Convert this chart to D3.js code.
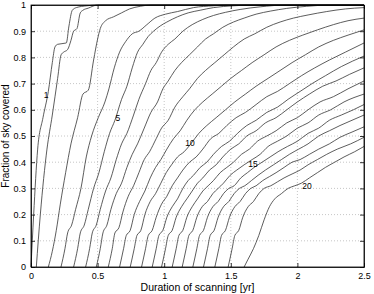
<!DOCTYPE html>
<html>
<head>
<meta charset="utf-8">
<script src="https://d3js.org/d3.v7.min.js"></script>
<style>
  body { margin: 0; background: #fff; }
  text { font-family: "Liberation Sans", Arial, sans-serif; fill: #000; }
  .grid line { stroke: #b8b8b8; stroke-dasharray: 1,2; stroke-width: 0.8; }
  .curve { fill: none; stroke: #333; stroke-width: 0.8; }
</style>
</head>
<body>
<div class="chart"></div>
<script>
// fraction of sky covered, one curve per case
var c1 = [[0,0],[0.02,0.2],[0.05,0.45],[0.09,0.57],[0.13,0.67],[0.16,0.78],[0.18,0.84],[0.2,0.85],[0.265,0.855],[0.285,0.92],[0.31,0.98],[0.34,0.99],[0.42,0.997],[0.5,1],[2.5,1]];
var c2 = [[0.04,0],[0.07,0.2],[0.12,0.45],[0.16,0.58],[0.2,0.72],[0.226,0.81],[0.245,0.82],[0.275,0.83],[0.3,0.865],[0.32,0.9],[0.345,0.91],[0.37,0.97],[0.39,0.98],[0.43,0.988],[0.5,1],[2.5,1]];
var c3 = [[0.13,0],[0.16,0.06],[0.19,0.14],[0.22,0.24],[0.26,0.36],[0.3,0.47],[0.35,0.57],[0.39,0.66],[0.43,0.675],[0.47,0.79],[0.5,0.87],[0.52,0.91],[0.56,0.94],[0.62,0.955],[0.68,0.97],[0.74,0.985],[0.82,0.995],[0.9,1],[2.5,1]];
var c4 = [[0.225,0],[0.255,0.07],[0.275,0.13],[0.305,0.16],[0.335,0.22],[0.375,0.3],[0.415,0.42],[0.455,0.5],[0.505,0.57],[0.555,0.63],[0.585,0.68],[0.625,0.76],[0.665,0.82],[0.71,0.86],[0.76,0.89],[0.81,0.9],[0.87,0.925],[0.93,0.95],[1.01,0.965],[1.1,0.975],[1.22,0.99],[1.37,0.997],[1.47,1],[2.5,1]];
var c5 = [[0.32,0],[0.35,0.07],[0.37,0.13],[0.4,0.16],[0.43,0.22],[0.47,0.3],[0.51,0.36],[0.55,0.44],[0.59,0.51],[0.63,0.56],[0.68,0.64],[0.72,0.69],[0.76,0.76],[0.8,0.82],[0.84,0.85],[0.88,0.88],[0.92,0.9],[0.97,0.92],[1.02,0.935],[1.1,0.955],[1.18,0.97],[1.27,0.98],[1.37,0.99],[1.52,0.997],[1.68,1],[2.5,1]];
var c6 = [[0.41,0],[0.44,0.07],[0.46,0.13],[0.49,0.16],[0.52,0.22],[0.56,0.29],[0.6,0.34],[0.64,0.41],[0.68,0.47],[0.72,0.51],[0.77,0.58],[0.81,0.64],[0.86,0.7],[0.9,0.75],[0.94,0.78],[0.98,0.82],[1.03,0.85],[1.08,0.87],[1.14,0.9],[1.21,0.925],[1.29,0.945],[1.37,0.96],[1.46,0.972],[1.57,0.983],[1.72,0.993],[1.92,1],[2.5,1]];
var c7 = [[0.49,0],[0.52,0.07],[0.54,0.13],[0.57,0.16],[0.6,0.22],[0.64,0.28],[0.68,0.32],[0.72,0.38],[0.76,0.43],[0.8,0.47],[0.85,0.53],[0.9,0.59],[0.95,0.63],[0.99,0.68],[1.03,0.71],[1.08,0.75],[1.13,0.78],[1.19,0.81],[1.25,0.84],[1.31,0.87],[1.37,0.89],[1.44,0.915],[1.52,0.935],[1.6,0.95],[1.69,0.965],[1.8,0.977],[1.92,0.987],[2.07,0.995],[2.25,1],[2.5,1]];
var c8 = [[0.58,0],[0.61,0.07],[0.63,0.13],[0.66,0.15],[0.69,0.21],[0.73,0.27],[0.77,0.31],[0.81,0.36],[0.85,0.41],[0.89,0.44],[0.94,0.49],[0.98,0.53],[1.03,0.56],[1.08,0.61],[1.14,0.65],[1.19,0.68],[1.25,0.72],[1.31,0.75],[1.38,0.78],[1.45,0.81],[1.52,0.84],[1.6,0.87],[1.68,0.89],[1.77,0.915],[1.87,0.935],[1.97,0.95],[2.08,0.962],[2.22,0.975],[2.36,0.985],[2.5,0.99]];
var c9 = [[0.665,0],[0.695,0.07],[0.715,0.12],[0.745,0.14],[0.775,0.2],[0.815,0.25],[0.855,0.29],[0.895,0.34],[0.935,0.38],[0.975,0.41],[1.02,0.45],[1.07,0.49],[1.12,0.52],[1.17,0.56],[1.23,0.6],[1.29,0.63],[1.36,0.66],[1.43,0.69],[1.5,0.72],[1.58,0.75],[1.66,0.78],[1.75,0.81],[1.84,0.84],[1.94,0.865],[2.04,0.885],[2.15,0.905],[2.27,0.925],[2.38,0.94],[2.5,0.95]];
var c10 = [[0.745,0],[0.775,0.07],[0.795,0.12],[0.825,0.14],[0.855,0.2],[0.895,0.25],[0.935,0.28],[0.975,0.32],[1.015,0.36],[1.055,0.39],[1.1,0.42],[1.15,0.44],[1.2,0.47],[1.26,0.51],[1.32,0.54],[1.39,0.57],[1.46,0.6],[1.53,0.63],[1.61,0.66],[1.69,0.69],[1.78,0.72],[1.87,0.75],[1.96,0.78],[2.06,0.81],[2.16,0.84],[2.27,0.865],[2.38,0.885],[2.5,0.905]];
var c11 = [[0.83,0],[0.86,0.07],[0.88,0.12],[0.91,0.14],[0.94,0.19],[0.98,0.24],[1.02,0.27],[1.06,0.31],[1.1,0.34],[1.14,0.37],[1.19,0.4],[1.24,0.42],[1.29,0.45],[1.35,0.49],[1.41,0.51],[1.47,0.54],[1.54,0.57],[1.61,0.59],[1.69,0.62],[1.77,0.65],[1.85,0.67],[1.94,0.7],[2.03,0.73],[2.13,0.76],[2.24,0.79],[2.36,0.82],[2.5,0.855]];
var c12 = [[0.91,0],[0.94,0.07],[0.96,0.12],[0.99,0.14],[1.02,0.19],[1.06,0.23],[1.1,0.26],[1.14,0.3],[1.18,0.33],[1.22,0.35],[1.27,0.38],[1.32,0.4],[1.37,0.43],[1.43,0.46],[1.49,0.48],[1.55,0.51],[1.62,0.54],[1.69,0.56],[1.77,0.59],[1.85,0.61],[1.93,0.64],[2.02,0.67],[2.11,0.7],[2.21,0.73],[2.33,0.765],[2.5,0.805]];
var c13 = [[0.98,0],[1.01,0.07],[1.03,0.12],[1.06,0.14],[1.09,0.19],[1.13,0.23],[1.17,0.26],[1.21,0.29],[1.25,0.32],[1.29,0.34],[1.34,0.37],[1.39,0.39],[1.44,0.42],[1.5,0.45],[1.56,0.47],[1.62,0.5],[1.69,0.52],[1.76,0.55],[1.84,0.57],[1.92,0.6],[2.0,0.63],[2.09,0.66],[2.19,0.69],[2.29,0.71],[2.39,0.735],[2.5,0.76]];
var c14 = [[1.06,0],[1.09,0.07],[1.11,0.12],[1.14,0.14],[1.17,0.19],[1.21,0.23],[1.25,0.26],[1.29,0.29],[1.33,0.31],[1.37,0.33],[1.42,0.36],[1.47,0.38],[1.52,0.4],[1.58,0.43],[1.64,0.45],[1.7,0.48],[1.77,0.5],[1.84,0.52],[1.92,0.55],[2.0,0.57],[2.08,0.6],[2.17,0.63],[2.27,0.65],[2.38,0.68],[2.5,0.71]];
var c15 = [[1.135,0],[1.165,0.07],[1.185,0.12],[1.215,0.14],[1.245,0.19],[1.285,0.23],[1.325,0.25],[1.365,0.28],[1.405,0.3],[1.445,0.32],[1.495,0.35],[1.545,0.37],[1.6,0.39],[1.66,0.41],[1.72,0.43],[1.78,0.46],[1.85,0.48],[1.92,0.5],[2.0,0.53],[2.08,0.55],[2.16,0.58],[2.25,0.6],[2.35,0.63],[2.5,0.66]];
var c16 = [[1.215,0],[1.245,0.07],[1.265,0.12],[1.295,0.14],[1.325,0.19],[1.365,0.23],[1.405,0.25],[1.445,0.28],[1.485,0.3],[1.525,0.31],[1.575,0.34],[1.625,0.36],[1.675,0.38],[1.735,0.4],[1.795,0.42],[1.855,0.44],[1.925,0.46],[2.0,0.48],[2.08,0.51],[2.16,0.53],[2.24,0.56],[2.33,0.58],[2.42,0.6],[2.5,0.62]];
var c17 = [[1.295,0],[1.325,0.07],[1.345,0.12],[1.375,0.14],[1.405,0.19],[1.445,0.23],[1.485,0.25],[1.525,0.28],[1.565,0.3],[1.605,0.31],[1.655,0.33],[1.705,0.35],[1.76,0.37],[1.82,0.39],[1.88,0.41],[1.94,0.43],[2.01,0.45],[2.08,0.47],[2.16,0.5],[2.24,0.52],[2.32,0.54],[2.41,0.56],[2.5,0.58]];
var c18 = [[1.38,0],[1.41,0.07],[1.43,0.12],[1.46,0.14],[1.49,0.19],[1.53,0.23],[1.57,0.25],[1.61,0.28],[1.65,0.3],[1.69,0.31],[1.74,0.33],[1.79,0.345],[1.84,0.36],[1.9,0.38],[1.96,0.4],[2.02,0.41],[2.09,0.43],[2.16,0.45],[2.24,0.47],[2.32,0.495],[2.41,0.515],[2.5,0.535]];
var c19 = [[1.48,0],[1.51,0.07],[1.53,0.12],[1.56,0.14],[1.59,0.19],[1.63,0.23],[1.67,0.25],[1.71,0.28],[1.75,0.3],[1.8,0.31],[1.85,0.325],[1.9,0.34],[1.96,0.355],[2.02,0.37],[2.08,0.39],[2.15,0.41],[2.22,0.43],[2.3,0.45],[2.4,0.47],[2.5,0.495]];
var c20 = [[1.6,0],[1.63,0.03],[1.67,0.07],[1.71,0.12],[1.75,0.18],[1.79,0.23],[1.83,0.26],[1.88,0.28],[1.93,0.3],[1.98,0.31],[2.03,0.32],[2.09,0.34],[2.15,0.36],[2.21,0.38],[2.28,0.4],[2.35,0.42],[2.43,0.44],[2.5,0.46]];

var curves = [c1,c2,c3,c4,c5,c6,c7,c8,c9,c10,c11,c12,c13,c14,c15,c16,c17,c18,c19,c20];

// curve labels and where they sit
var labelText = ["1","5","10","15","20"];
var labelPos = [[0.113,0.655],[0.653,0.567],[1.194,0.472],[1.667,0.395],[2.072,0.308]];

var xTicks = [0,0.5,1,1.5,2,2.5];
var yTicks = [0,0.1,0.2,0.3,0.4,0.5,0.6,0.7,0.8,0.9,1];

var w = 374, h = 294;
var margin = {left:31, right:10, top:5, bottom:27};
var width = w - margin.left - margin.right;
var height = h - margin.top - margin.bottom;

var x = d3.scaleLinear().domain([0,2.5]).range([0,width]);
var y = d3.scaleLinear().domain([0,1]).range([height,0]);

var svg = d3.select("div.chart").append("svg")
            .attr("width", w)
            .attr("height", h);

var chartGroup = svg.append("g")
                    .attr("transform","translate(" + margin.left + "," + margin.top + ")");

// dotted grid
var grid = chartGroup.append("g").attr("class","grid");
grid.selectAll("line.gx")
    .data(xTicks.slice(1,-1))
    .enter().append("line")
      .attr("x1",function(d){return x(d);}).attr("x2",function(d){return x(d);})
      .attr("y1",0).attr("y2",height);
grid.selectAll("line.gy")
    .data(yTicks.slice(1,-1))
    .enter().append("line")
      .attr("y1",function(d){return y(d);}).attr("y2",function(d){return y(d);})
      .attr("x1",0).attr("x2",width);

var line = d3.line()
  .x(function(d){ return x(d[0]); })
  .y(function(d){ return y(d[1]); })
  .curve(d3.curveMonotoneX);

chartGroup.selectAll("path.curve")
  .data(curves)
  .enter().append("path")
    .attr("class","curve")
    .attr("d", line);

chartGroup.selectAll("text.clabel")
  .data(labelText)
  .enter().append("text")
    .attr("class","clabel")
    .attr("x",function(d,i){ return x(labelPos[i][0]); })
    .attr("y",function(d,i){ return y(labelPos[i][1]); })
    .attr("text-anchor","middle")
    .attr("dominant-baseline","central")
    .attr("font-size","8.5px")
    .text(function(d){ return d; });

// axes, MATLAB style: ticks inside, on all four sides
var fmt = function(d){ return d3.format("~g")(d); };
var xAxis = d3.axisBottom(x).tickValues(xTicks).tickSizeInner(-4).tickSizeOuter(0).tickPadding(6).tickFormat(fmt);
var yAxis = d3.axisLeft(y).tickValues(yTicks).tickSizeInner(-4).tickSizeOuter(0).tickPadding(5).tickFormat(fmt);
var xTop = d3.axisTop(x).tickValues(xTicks).tickSizeInner(-4).tickSizeOuter(0).tickFormat("");
var yRight = d3.axisRight(y).tickValues(yTicks).tickSizeInner(-4).tickSizeOuter(0).tickFormat("");

chartGroup.append("g").attr("class","x axis")
  .attr("transform","translate(0," + height + ")").call(xAxis);
chartGroup.append("g").attr("class","y axis").call(yAxis);
chartGroup.append("g").call(xTop);
chartGroup.append("g").attr("transform","translate(" + width + ",0)").call(yRight);

chartGroup.selectAll(".tick text").attr("font-size","9px").attr("font-family","Liberation Sans, Arial, sans-serif");
chartGroup.selectAll(".domain, .tick line").attr("stroke","#000").attr("stroke-width",0.8);

chartGroup.append("rect")
  .attr("width",width).attr("height",height)
  .attr("fill","none").attr("stroke","#000").attr("stroke-width",0.8);

svg.append("text")
  .attr("x", margin.left + width/2)
  .attr("y", h - 3)
  .attr("text-anchor","middle")
  .attr("font-size","10.5px")
  .text("Duration of scanning [yr]");

svg.append("text")
  .attr("transform","translate(9," + (margin.top + height/2) + ") rotate(-90)")
  .attr("text-anchor","middle")
  .attr("font-size","10px")
  .text("Fraction of sky covered");
</script>
</body>
</html>
